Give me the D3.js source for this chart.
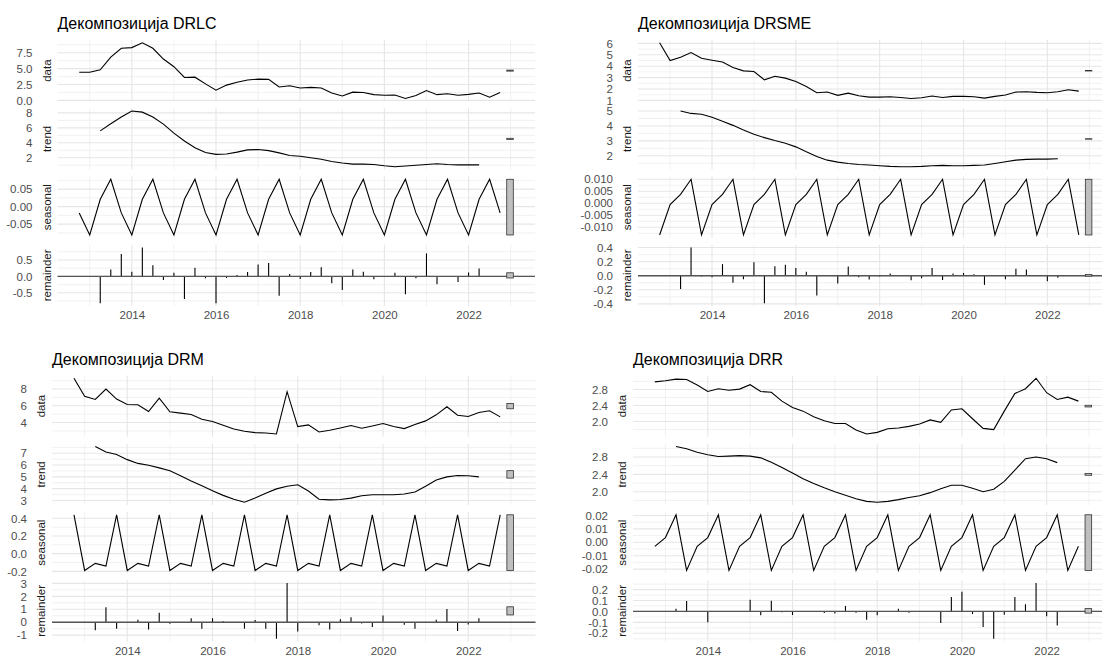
<!DOCTYPE html>
<html>
<head>
<meta charset="utf-8">
<script src="https://cdn.jsdelivr.net/npm/d3@7"></script>
<style>
  body { margin: 0; background: #fff; }
  svg { display: block; font-family: "Liberation Sans", Arial, sans-serif; }
</style>
</head>
<body>
<svg id="chart" width="1102" height="657"></svg>
<script>
// quarterly series, first observation 2012 Q4
const startYear = 2012.75
const frequency = 4

const parts = ['data', 'trend', 'seasonal', 'remainder']
const years = ['2014', '2016', '2018', '2020', '2022']

// ---- DRLC ----
const drlcData = [4.43, 4.43, 4.8, 6.8, 8.2, 8.3, 9.06, 8.2, 6.5, 5.3, 3.6, 3.65, 2.6, 1.6, 2.4, 2.85, 3.2, 3.35, 3.3, 2.1,
  2.3, 1.95, 2.05, 1.95, 1.15, 0.7, 1.3, 1.25, 0.9, 0.8, 0.85, 0.3, 0.75, 1.55, 0.9, 1.05, 0.8, 0.95, 1.15, 0.5, 1.25]
const drlcTrend = [null, null, 5.6, 6.55, 7.45, 8.25, 8.1, 7.45, 6.5, 5.3, 4.25, 3.35, 2.7, 2.45, 2.5, 2.75, 3.05, 3.1, 2.95, 2.65,
  2.3, 2.2, 2.0, 1.8, 1.5, 1.3, 1.15, 1.15, 1.1, 0.93, 0.8, 0.9, 1.0, 1.1, 1.2, 1.1, 1.05, 1.05, 1.05, null, null]
const drlcSeasonal = [
  -0.018, -0.081, 0.021, 0.078, -0.018, -0.081, 0.021, 0.078, -0.018, -0.081, 0.021, 0.078,
  -0.018, -0.081, 0.021, 0.078, -0.018, -0.081, 0.021, 0.078, -0.018, -0.081, 0.021, 0.078,
  -0.018, -0.081, 0.021, 0.078, -0.018, -0.081, 0.021, 0.078, -0.018, -0.081, 0.021, 0.078,
  -0.018, -0.081, 0.021, 0.078, -0.018]
const drlcRemainder = [null, null, -0.82, 0.21, 0.68, 0.14, 0.88, 0.34, -0.11, 0.11, -0.69, 0.26, -0.06, -0.82, -0.05, 0.04, 0.13, 0.36, 0.41, -0.59,
  0.07, -0.08, 0.13, 0.28, -0.21, -0.42, 0.21, 0.14, -0.09, 0.01, 0.11, -0.55, -0.06, 0.70, -0.24, -0.01, -0.17, 0.12, 0.24, null, null]
const drlcTicks = [['0.0', '2.5', '5.0', '7.5'], ['2', '4', '6', '8'], ['-0.05', '0.00', '0.05'], ['-0.5', '0.0', '0.5']]

// ---- DRSME ----
const drsmeData = [6.05, 4.49, 4.78, 5.19, 4.69, 4.52, 4.37, 3.88, 3.59, 3.53, 2.80, 3.12, 2.95, 2.66, 2.22, 1.67, 1.73, 1.44, 1.64, 1.41,
  1.29, 1.29, 1.32, 1.26, 1.17, 1.23, 1.38, 1.26, 1.35, 1.35, 1.32, 1.20, 1.35, 1.47, 1.73, 1.76, 1.70, 1.67, 1.76, 1.93, 1.81]
const drsmeTrend = [null, null, 5.0, 4.84, 4.78, 4.58, 4.31, 4.04, 3.73, 3.44, 3.22, 3.02, 2.84, 2.6, 2.27, 1.96, 1.71, 1.58, 1.49, 1.42,
  1.38, 1.33, 1.29, 1.27, 1.27, 1.29, 1.33, 1.36, 1.33, 1.33, 1.36, 1.38, 1.49, 1.6, 1.71, 1.76, 1.78, 1.78, 1.80, null, null]
const drsmeSeasonal = [
  -0.0132, -0.0005, 0.0037, 0.0100, -0.0132, -0.0005, 0.0037, 0.0100, -0.0132, -0.0005, 0.0037, 0.0100,
  -0.0132, -0.0005, 0.0037, 0.0100, -0.0132, -0.0005, 0.0037, 0.0100, -0.0132, -0.0005, 0.0037, 0.0100,
  -0.0132, -0.0005, 0.0037, 0.0100, -0.0132, -0.0005, 0.0037, 0.0100, -0.0132, -0.0005, 0.0037, 0.0100,
  -0.0132, -0.0005, 0.0037, 0.0100, -0.0132]
const drsmeRemainder = [null, null, -0.19, 0.40, -0.01, -0.02, 0.165, -0.10, -0.05, 0.19, -0.39, 0.135, 0.155, 0.11, 0.055, -0.28, 0.005, -0.11, 0.13, -0.02,
  -0.055, -0.01, 0.03, -0.005, -0.065, -0.035, 0.11, -0.06, 0.03, 0.04, 0.02, -0.13, -0.005, -0.05, 0.10, 0.09, -0.005, -0.08, -0.03, null, null]
const drsmeTicks = [['1', '2', '3', '4', '5', '6'], ['2', '3', '4', '5'], ['-0.010', '-0.005', '0.000', '0.005', '0.010'], ['-0.4', '-0.2', '0.0', '0.2', '0.4']]

// ---- DRM ----
const drmData = [9.28, 7.12, 6.76, 8.0, 6.8, 6.16, 6.12, 5.32, 6.92, 5.28, 5.12, 4.96, 4.4, 4.12, 3.68, 3.24, 2.96, 2.8, 2.76, 2.64,
  7.68, 3.52, 3.72, 2.88, 3.08, 3.36, 3.64, 3.32, 3.6, 3.88, 3.52, 3.28, 3.76, 4.2, 4.92, 5.88, 4.88, 4.72, 5.2, 5.4, 4.68]
const drmTrend = [null, null, 7.57, 7.1, 6.9, 6.46, 6.14, 5.99, 5.76, 5.52, 5.09, 4.65, 4.24, 3.83, 3.43, 3.1, 2.85, 3.2, 3.6, 3.98,
  4.2, 4.33, 3.8, 3.1, 3.05, 3.08, 3.2, 3.4, 3.48, 3.48, 3.48, 3.54, 3.72, 4.2, 4.74, 5.0, 5.12, 5.09, 5.0, null, null]
const drmSeasonal = [
  0.44, -0.19, -0.11, -0.14, 0.44, -0.19, -0.11, -0.14, 0.44, -0.19, -0.11, -0.14,
  0.44, -0.19, -0.11, -0.14, 0.44, -0.19, -0.11, -0.14, 0.44, -0.19, -0.11, -0.14,
  0.44, -0.19, -0.11, -0.14, 0.44, -0.19, -0.11, -0.14, 0.44, -0.19, -0.11, -0.14,
  0.44, -0.19, -0.11, -0.14, 0.44]
const drmRemainder = [null, null, -0.63, 1.15, -0.5, -0.05, 0.18, -0.57, 0.73, -0.13, 0.02, 0.31, -0.5, 0.31, 0.08, 0.02, -0.5, 0.16, -0.5, -1.28,
  3.03, -0.73, -0.03, -0.23, -0.57, 0.23, 0.39, -0.1, -0.37, 0.52, 0.02, -0.2, -0.5, 0.02, 0.18, 1.02, -0.68, -0.18, 0.31, null, null]
const drmTicks = [['4', '6', '8'], ['3', '4', '5', '6', '7'], ['-0.2', '0.0', '0.2', '0.4'], ['-1', '0', '1', '2', '3']]

// ---- DRR ----
const drrData = [2.99, 3.02, 3.06, 3.05, 2.91, 2.75, 2.82, 2.78, 2.81, 2.92, 2.75, 2.73, 2.51, 2.35, 2.26, 2.12, 2.02, 1.95, 1.95, 1.79,
  1.69, 1.73, 1.82, 1.84, 1.88, 1.94, 2.04, 1.98, 2.29, 2.32, 2.07, 1.83, 1.80, 2.26, 2.70, 2.82, 3.08, 2.72, 2.55, 2.61, 2.51]
const drrTrend = [null, null, 3.04, 2.99, 2.91, 2.85, 2.81, 2.82, 2.83, 2.82, 2.78, 2.68, 2.56, 2.43, 2.30, 2.19, 2.09, 2.00, 1.92, 1.84,
  1.78, 1.76, 1.78, 1.82, 1.87, 1.91, 1.98, 2.07, 2.15, 2.15, 2.08, 2.00, 2.06, 2.24, 2.50, 2.76, 2.80, 2.76, 2.67, null, null]
const drrSeasonal = [
  -0.003, 0.0035, 0.0205, -0.021, -0.003, 0.0035, 0.0205, -0.021, -0.003, 0.0035, 0.0205, -0.021,
  -0.003, 0.0035, 0.0205, -0.021, -0.003, 0.0035, 0.0205, -0.021, -0.003, 0.0035, 0.0205, -0.021,
  -0.003, 0.0035, 0.0205, -0.021, -0.003, 0.0035, 0.0205, -0.021, -0.003, 0.0035, 0.0205, -0.021,
  -0.003, 0.0035, 0.0205, -0.021, -0.003]
const drrRemainder = [null, null, 0.025, 0.095, 0.002, -0.10, 0.002, -0.005, -0.006, 0.107, -0.035, 0.097, -0.007, -0.033, -0.006, 0.005, -0.015, -0.018, 0.05, -0.012,
  -0.076, -0.035, -0.003, 0.025, -0.012, -0.003, 0.005, -0.106, 0.133, 0.18, -0.024, -0.142, -0.25, -0.03, 0.133, 0.066, 0.26, -0.045, -0.13, null, null]
const drrTicks = [['2.0', '2.4', '2.8'], ['2.0', '2.4', '2.8'], ['-0.02', '-0.01', '0.00', '0.01', '0.02'], ['-0.2', '-0.1', '0.0', '0.1', '0.2']]

let svg = d3.select('#chart')

// facet geometry
let panelH = 61.25
let gap = 7

let plots = [
  { title: 'Декомпозиција DRLC', series: [drlcData, drlcTrend, drlcSeasonal, drlcRemainder], ticks: drlcTicks, left: 57.5, right: 535, top: 40 },
  { title: 'Декомпозиција DRSME', series: [drsmeData, drsmeTrend, drsmeSeasonal, drsmeRemainder], ticks: drsmeTicks, left: 638, right: 1113.5, top: 40 },
  { title: 'Декомпозиција DRM', series: [drmData, drmTrend, drmSeasonal, drmRemainder], ticks: drmTicks, left: 52, right: 535.5, top: 375.5 },
  { title: 'Декомпозиција DRR', series: [drrData, drrTrend, drrSeasonal, drrRemainder], ticks: drrTicks, left: 633, right: 1113.5, top: 375.5 }
]

var expand = function (ext) {
  let pad = (ext[1] - ext[0]) * 0.05
  return [ext[0] - pad, ext[1] + pad]
}

var drawDecomp = function (cfg) {
  let n = cfg.series[0].length
  let time = d3.range(n).map(i => startYear + i / frequency)
  let tEnd = time[n - 1]
  // range bar sits just right of the last observation
  let barW = (tEnd - time[0]) / 64
  let barLeft = tEnd + barW
  let barRight = tEnd + barW * 2

  let x = d3.scaleLinear()
    .domain(expand([time[0], barRight]))
    .range([cfg.left, cfg.right])

  let g = svg.append('g')

  g.append('text')
    .attr('x', cfg.left)
    .attr('y', cfg.top - 11)
    .style('font-size', '16px')
    .style('fill', '#000')
    .text(cfg.title)

  let ranges = cfg.series.map(s => d3.extent(s.filter(v => v !== null)))
  let barLen = d3.min(ranges, r => r[1] - r[0])

  let majorYears = years.map(Number)
  let minorYears = majorYears.map(v => v - 1).concat([majorYears[majorYears.length - 1] + 1])

  parts.forEach(function (part, k) {
    let top = cfg.top + k * (panelH + gap)
    let bottom = top + panelH
    let vals = cfg.series[k]
    let ext = ranges[k]
    if (part === 'remainder') ext = d3.extent(ext.concat([0]))
    let y = d3.scaleLinear().domain(expand(ext)).range([bottom, top])

    let ticks = cfg.ticks[k].map(Number)
    let step = ticks[1] - ticks[0]
    let dom = y.domain()
    let minor = ticks.map(t => t - step / 2).concat([ticks[ticks.length - 1] + step / 2])
      .filter(t => t >= dom[0] && t <= dom[1])
    let minorX = minorYears.filter(t => t >= x.domain()[0] && t <= x.domain()[1])

    let pg = g.append('g')

    // grid
    pg.selectAll('.hmin').data(minor).enter().append('line')
      .attr('x1', cfg.left).attr('x2', cfg.right)
      .attr('y1', d => y(d)).attr('y2', d => y(d))
      .attr('stroke', '#eeeeee').attr('stroke-width', 0.8)
    pg.selectAll('.vmin').data(minorX).enter().append('line')
      .attr('x1', d => x(d)).attr('x2', d => x(d))
      .attr('y1', top).attr('y2', bottom)
      .attr('stroke', '#eeeeee').attr('stroke-width', 0.8)
    pg.selectAll('.hmaj').data(ticks).enter().append('line')
      .attr('x1', cfg.left).attr('x2', cfg.right)
      .attr('y1', d => y(d)).attr('y2', d => y(d))
      .attr('stroke', '#e6e6e6').attr('stroke-width', 1.1)
    pg.selectAll('.vmaj').data(majorYears).enter().append('line')
      .attr('x1', d => x(d)).attr('x2', d => x(d))
      .attr('y1', top).attr('y2', bottom)
      .attr('stroke', '#e6e6e6').attr('stroke-width', 1.1)

    let pts = vals.map((v, i) => ({ t: time[i], v: v }))

    if (part === 'remainder') {
      pg.selectAll('.seg').data(pts.filter(d => d.v !== null)).enter().append('line')
        .attr('x1', d => x(d.t)).attr('x2', d => x(d.t))
        .attr('y1', y(0)).attr('y2', d => y(d.v))
        .attr('stroke', '#000').attr('stroke-width', 1.1)
      pg.append('line')
        .attr('x1', cfg.left).attr('x2', cfg.right)
        .attr('y1', y(0)).attr('y2', y(0))
        .attr('stroke', '#555').attr('stroke-width', 1.4)
    } else {
      let line = d3.line()
        .defined(d => d.v !== null)
        .x(d => x(d.t))
        .y(d => y(d.v))
      pg.append('path')
        .attr('d', line(pts))
        .attr('fill', 'none')
        .attr('stroke', '#000')
        .attr('stroke-width', 1.1)
    }

    // range bar
    let mid = (ranges[k][0] + ranges[k][1]) / 2
    pg.append('rect')
      .attr('x', x(barLeft))
      .attr('width', x(barRight) - x(barLeft))
      .attr('y', y(mid + barLen / 2))
      .attr('height', Math.max(0.5, y(mid - barLen / 2) - y(mid + barLen / 2)))
      .attr('fill', '#bfbfbf')
      .attr('stroke', '#333')
      .attr('stroke-width', 0.8)

    // y axis labels
    let yAxis = d3.axisLeft(y)
      .tickValues(ticks)
      .tickFormat((d, i) => cfg.ticks[k][i])
      .tickSize(0)
      .tickPadding(0)
    let ya = pg.append('g')
      .attr('transform', `translate(${cfg.left - 25},0)`)
      .call(yAxis)
    ya.select('.domain').remove()
    ya.selectAll('text')
      .style('font-size', '11.5px')
      .style('font-family', '"Liberation Sans", Arial, sans-serif')
      .attr('fill', '#4d4d4d')

    // strip label on the left
    pg.append('text')
      .attr('transform', `translate(${cfg.left - 11},${top + panelH / 2}) rotate(-90)`)
      .attr('text-anchor', 'middle')
      .attr('dy', '0.35em')
      .style('font-size', '11.5px')
      .style('fill', '#1a1a1a')
      .text(part)

    if (part === 'remainder') {
      let xAxis = d3.axisBottom(x)
        .tickValues(majorYears)
        .tickFormat((d, i) => years[i])
        .tickSize(0)
        .tickPadding(5)
      let xa = pg.append('g')
        .attr('transform', `translate(0,${bottom})`)
        .call(xAxis)
      xa.select('.domain').remove()
      xa.selectAll('text')
        .style('font-size', '11.5px')
        .style('font-family', '"Liberation Sans", Arial, sans-serif')
        .attr('fill', '#4d4d4d')
    }
  })
}

plots.forEach(drawDecomp)
</script>
</body>
</html>
